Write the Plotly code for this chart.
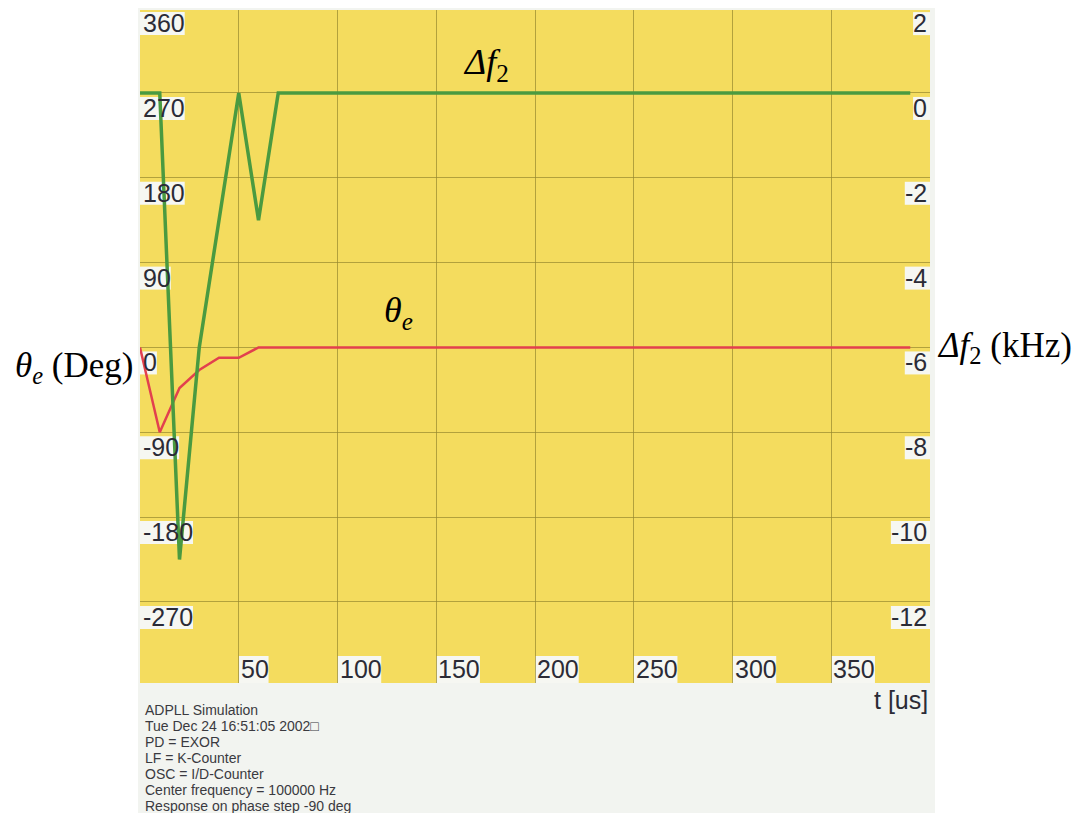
import plotly.graph_objects as go

# ---- data ----
t_green = [0, 10, 20, 30, 40, 50, 60, 70, 390]          # t [us]
df2_khz = [0, 0, -11, -6, -3, 0, -3, 0, 0]              # Δf2 [kHz]

t_red = [0, 10, 20, 30, 40, 50, 60, 390]                # t [us]
theta_deg = [0, -90, -43, -24, -11, -11, 0, 0]          # θe [deg]

x_ticks = [50, 100, 150, 200, 250, 300, 350]
deg_ticks = [360, 270, 180, 90, 0, -90, -180, -270]
khz_ticks = [2, 0, -2, -4, -6, -8, -10, -12]

info_lines = [
    "ADPLL Simulation",
    "Tue Dec 24 16:51:05 2002\u25a1",
    "PD = EXOR",
    "LF = K-Counter",
    "OSC = I/D-Counter",
    "Center frequency = 100000 Hz",
    "Response on phase step -90 deg",
]

# ---- styling ----
YELLOW = "#f4dc5e"
PANEL = "#f2f4f0"
LABEL_BG = "#f6f7f2"
GRID = "rgba(150,135,45,0.7)"
TXT = "#2b2b36"
SANS = "Liberation Sans, Arial, sans-serif"
SERIF = "Liberation Serif, Times New Roman, serif"
TICK_SIZE = 25

deg_range = [-356, 358]
khz_range = [(d - 270) / 45 for d in deg_range]


def deg_to_paper(v):
    return (v - deg_range[0]) / (deg_range[1] - deg_range[0])


def khz_to_paper(v):
    return (v - khz_range[0]) / (khz_range[1] - khz_range[0])


def label_width(s):
    w = 0.0
    for ch in s:
        w += 0.333 if ch == "-" else 0.556
    return w * TICK_SIZE + 2


fig = go.Figure()
fig.add_trace(go.Scatter(x=t_green, y=df2_khz, yaxis="y2", mode="lines",
                         line=dict(color="#4a9a40", width=3.5), showlegend=False))
fig.add_trace(go.Scatter(x=t_red, y=theta_deg, yaxis="y", mode="lines",
                         line=dict(color="#e2404e", width=2.5), showlegend=False))

ann = []
shapes = [
    dict(type="rect", xref="paper", yref="paper", x0=-0.0025, x1=1.0063,
         y0=-0.25, y1=1.0045, fillcolor=PANEL, line=dict(width=0), layer="below"),
    dict(type="rect", xref="paper", yref="paper", x0=0, x1=1, y0=0, y1=1,
         fillcolor=YELLOW, line=dict(width=0), layer="below"),
]
box = dict(type="rect", fillcolor=LABEL_BG, line=dict(width=0), layer="between")

# bottom tick labels
for v in x_ticks:
    s = str(v)
    ann.append(dict(x=v, y=0, xref="x", yref="paper", text=s, showarrow=False,
                    xanchor="left", yanchor="middle", yshift=14, xshift=0,
                    font=dict(family=SANS, size=TICK_SIZE, color=TXT)))
    shapes.append(dict(box, xref="x", yref="paper", xsizemode="pixel", xanchor=v,
                       x0=0, x1=label_width(s), ysizemode="pixel", yanchor=0,
                       y0=0, y1=27))
# left tick labels
for v in deg_ticks:
    s = str(v)
    py = deg_to_paper(v)
    ann.append(dict(x=0, y=py, xref="paper", yref="paper", text=s,
                    showarrow=False, xanchor="left", yanchor="middle", yshift=-15, xshift=1,
                    font=dict(family=SANS, size=TICK_SIZE, color=TXT)))
    shapes.append(dict(box, xref="paper", yref="paper", xsizemode="pixel", xanchor=0,
                       x0=0, x1=label_width(s) + 1, ysizemode="pixel", yanchor=py,
                       y0=-4, y1=-27))
# right tick labels
for v in khz_ticks:
    s = str(v)
    py = khz_to_paper(v)
    ann.append(dict(x=1, y=py, xref="paper", yref="paper", text=s,
                    showarrow=False, xanchor="right", yanchor="middle", yshift=-15, xshift=-1,
                    font=dict(family=SANS, size=TICK_SIZE, color=TXT)))
    shapes.append(dict(box, xref="paper", yref="paper", xsizemode="pixel", xanchor=1,
                       x0=-label_width(s) - 1, x1=0, ysizemode="pixel", yanchor=py,
                       y0=-4, y1=-27))
# x axis title
ann.append(dict(x=1, y=0, xref="paper", yref="paper", text="t [us]", showarrow=False,
                xanchor="right", yanchor="middle", yshift=-17, xshift=0,
                font=dict(family=SANS, size=TICK_SIZE, color=TXT)))
# info block
for i, line in enumerate(info_lines):
    ann.append(dict(x=0, y=0, xref="paper", yref="paper", text=line, showarrow=False,
                    xanchor="left", yanchor="middle", xshift=3, yshift=-27 - 16 * i,
                    font=dict(family=SANS, size=14, color="#3a3a40")))
# curve labels
ann.append(dict(x=175, y=300, xref="x", yref="y", showarrow=False,
                text="<i>Δf</i><sub>2</sub>",
                font=dict(family=SERIF, size=36, color="#000000")))
ann.append(dict(x=131, y=37, xref="x", yref="y", showarrow=False,
                text="<i>θ<sub>e</sub></i>",
                font=dict(family=SERIF, size=36, color="#000000")))
# axis titles
ann.append(dict(x=0, y=0, xref="paper", yref="y", showarrow=False,
                xanchor="right", yanchor="middle", xshift=-5, yshift=-20,
                text="<i>θ<sub>e</sub></i> (Deg)",
                font=dict(family=SERIF, size=35, color="#000000")))
ann.append(dict(x=1, y=-6, xref="paper", yref="y2", showarrow=False,
                xanchor="left", yanchor="middle", xshift=5, yshift=0,
                text="<i>Δf</i><sub>2</sub> (kHz)",
                font=dict(family=SERIF, size=35, color="#000000")))

# the page body has an 8px default margin, so offsets are compensated here
fig.update_layout(
    width=1083, height=813,
    margin=dict(l=132, r=161, t=2, b=138),
    paper_bgcolor="white", plot_bgcolor=YELLOW,
    showlegend=False,
    xaxis=dict(range=[0, 400], tickvals=x_ticks, showticklabels=False, ticks="",
               showgrid=True, gridcolor=GRID, gridwidth=1, zeroline=False,
               showline=False, fixedrange=True),
    yaxis=dict(range=deg_range, tickvals=deg_ticks, showticklabels=False, ticks="",
               showgrid=True, gridcolor=GRID, gridwidth=1, zeroline=False,
               showline=False, fixedrange=True),
    yaxis2=dict(range=khz_range, overlaying="y", side="right", showgrid=False,
                showticklabels=False, ticks="", zeroline=False, showline=False,
                fixedrange=True),
    annotations=ann,
    shapes=shapes,
)

fig.write_html("out.html")
